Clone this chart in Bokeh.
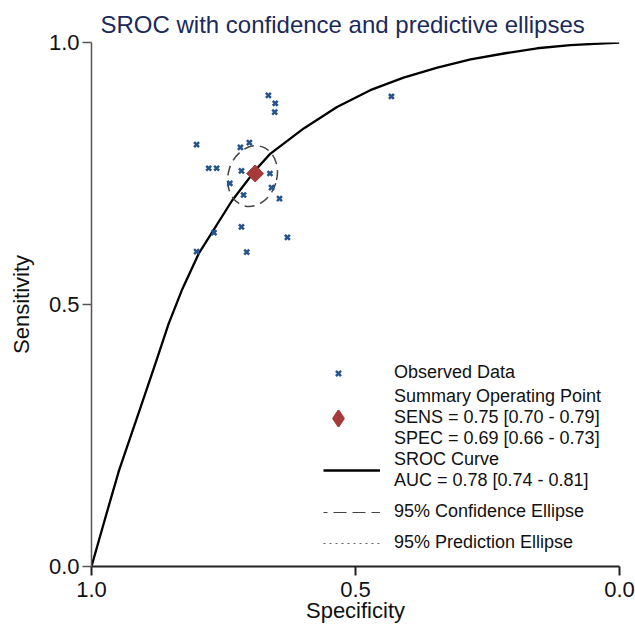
import numpy as np
from bokeh.plotting import figure
from bokeh.models import (Range1d, FixedTicker, PrintfTickFormatter, Legend,
                          LegendItem)
from bokeh.embed import file_html
from bokeh.resources import INLINE

# ---- data ----
obs_spec = [0.665, 0.652, 0.653, 0.432, 0.801, 0.701, 0.718, 0.778, 0.763, 0.716,
            0.662, 0.738, 0.659, 0.712, 0.644, 0.716, 0.768, 0.629, 0.801, 0.706]
obs_sens = [0.899, 0.884, 0.867, 0.897, 0.805, 0.809, 0.800, 0.760, 0.760, 0.755,
            0.750, 0.731, 0.723, 0.709, 0.702, 0.648, 0.637, 0.628, 0.601, 0.600]

summary_spec = [0.69]
summary_sens = [0.75]

sroc_spec = [1.0, 0.9735, 0.948, 0.905, 0.879, 0.854, 0.829, 0.797, 0.734, 0.690,
             0.661, 0.598, 0.535, 0.472, 0.409, 0.345, 0.282, 0.219, 0.156, 0.093,
             0.0]
sroc_sens = [0.0, 0.094, 0.183, 0.310, 0.387, 0.463, 0.527, 0.597, 0.698, 0.756,
             0.788, 0.836, 0.877, 0.909, 0.933, 0.952, 0.968, 0.979, 0.989, 0.995,
             1.0]

conf_center_spec = [0.695]
conf_center_sens = [0.745]
conf_width = [0.092]
conf_height = [0.118]
conf_angle = [-0.3]

# the prediction ellipse is listed in the legend but not drawn in the plot
pred_spec = [float("nan")]
pred_sens = [float("nan")]
no_point = [float("nan")]

axis_ticks = [0.0, 0.5, 1.0]

title_text = "SROC with confidence and predictive ellipses"
x_title = "Specificity"
y_title = "Sensitivity"
label_obs = "Observed Data"
label_sum = "Summary Operating Point\nSENS = 0.75 [0.70 - 0.79]\nSPEC = 0.69 [0.66 - 0.73]"
label_sroc = "SROC Curve\nAUC = 0.78 [0.74 - 0.81]"
label_conf = "95% Confidence Ellipse"
label_pred = "95% Prediction Ellipse"

FONT = "Liberation Sans"
BLUE = "#24538d"
RED = "#a63a3a"

p = figure(width=635, height=625, x_range=Range1d(1, 0), y_range=Range1d(0, 1),
           output_backend="svg", toolbar_location=None,
           min_border_left=91, min_border_right=16, min_border_top=42,
           min_border_bottom=59)
p.outline_line_color = None
p.grid.visible = False
p.background_fill_color = "white"

p.title.text = title_text
p.title.text_font = FONT
p.title.text_font_size = "24px"
p.title.text_font_style = "normal"
p.title.text_color = "#1b2a5a"
p.title.align = "left"
p.title.offset = 9
p.title.standoff = 10

for ax in (p.xaxis[0], p.yaxis[0]):
    ax.ticker = FixedTicker(ticks=axis_ticks)
    ax.formatter = PrintfTickFormatter(format="%.1f")
    ax.major_tick_out = 9
    ax.major_tick_in = 0
    ax.minor_tick_line_color = None
    ax.major_label_text_font = FONT
    ax.major_label_text_font_size = "22px"
    ax.major_label_text_color = "#111111"
    ax.axis_label_text_font = FONT
    ax.axis_label_text_font_size = "22px"
    ax.axis_label_text_font_style = "normal"
    ax.axis_label_text_color = "#111111"

p.xaxis.axis_line_width = 2
p.xaxis.axis_line_color = "#222222"
p.xaxis.major_tick_line_width = 2
p.xaxis.major_tick_line_color = "#222222"
p.xaxis.major_label_standoff = 6
p.xaxis.axis_label = x_title
p.xaxis.axis_label_standoff = -2

p.yaxis.axis_line_width = 1.5
p.yaxis.axis_line_color = "#555555"
p.yaxis.major_tick_line_width = 1.5
p.yaxis.major_tick_line_color = "#555555"
p.yaxis.major_label_standoff = 3
p.yaxis.axis_label = y_title
p.yaxis.axis_label_standoff = 12

r_sroc = p.line(sroc_spec, sroc_sens, line_color="black", line_width=2.3,
                line_join="round")
r_conf = p.ellipse(x=conf_center_spec, y=conf_center_sens, width=conf_width,
                   height=conf_height, angle=conf_angle, fill_color=None,
                   line_color="#444444", line_width=1.5, line_dash="10 6")
r_pred = p.line(pred_spec, pred_sens, line_color="#666666", line_width=1.2,
                line_dash="2 4")
r_obs = p.scatter(obs_spec, obs_sens, marker="x", size=7, line_width=2.5,
                  line_color=BLUE)
r_sum = p.scatter(summary_spec, summary_sens, marker="square", size=12,
                  angle=np.pi / 4, fill_color=RED, line_color=RED)

# legend keys (nothing visible in the plot area)
k_sum = p.scatter(no_point, no_point, marker="diamond", size=16, line_width=2,
                  fill_color=RED, line_color=RED)
k_conf = p.line(no_point, no_point, line_color="#444444", line_width=1.2,
                line_dash="13 6", line_dash_offset=9)


def style(lg):
    lg.padding = 0
    lg.margin = 0
    lg.glyph_height = 18
    lg.label_height = 18
    lg.label_text_font = FONT
    lg.label_text_font_size = "18px"
    lg.label_text_color = "#111111"
    lg.border_line_color = None
    lg.background_fill_alpha = 0


legend_obs = Legend(items=[LegendItem(label=label_obs, renderers=[r_obs])],
                    location=(232, 183))
style(legend_obs)
legend_obs.glyph_width = 30
legend_obs.label_standoff = 41

legend_sum = Legend(items=[LegendItem(label=label_sum, renderers=[k_sum])],
                    location=(227, 117))
style(legend_sum)
legend_sum.glyph_width = 40
legend_sum.glyph_height = 40
legend_sum.label_standoff = 36

legend_lines = Legend(items=[
    LegendItem(label=label_sroc, renderers=[r_sroc]),
    LegendItem(label=label_conf, renderers=[k_conf]),
    LegendItem(label=label_pred, renderers=[r_pred]),
], location=(232, 13))
style(legend_lines)
legend_lines.spacing = 10
legend_lines.glyph_width = 57
legend_lines.label_standoff = 14

p.add_layout(legend_obs)
p.add_layout(legend_sum)
p.add_layout(legend_lines)

open("out.html", "w").write(file_html(p, INLINE))
